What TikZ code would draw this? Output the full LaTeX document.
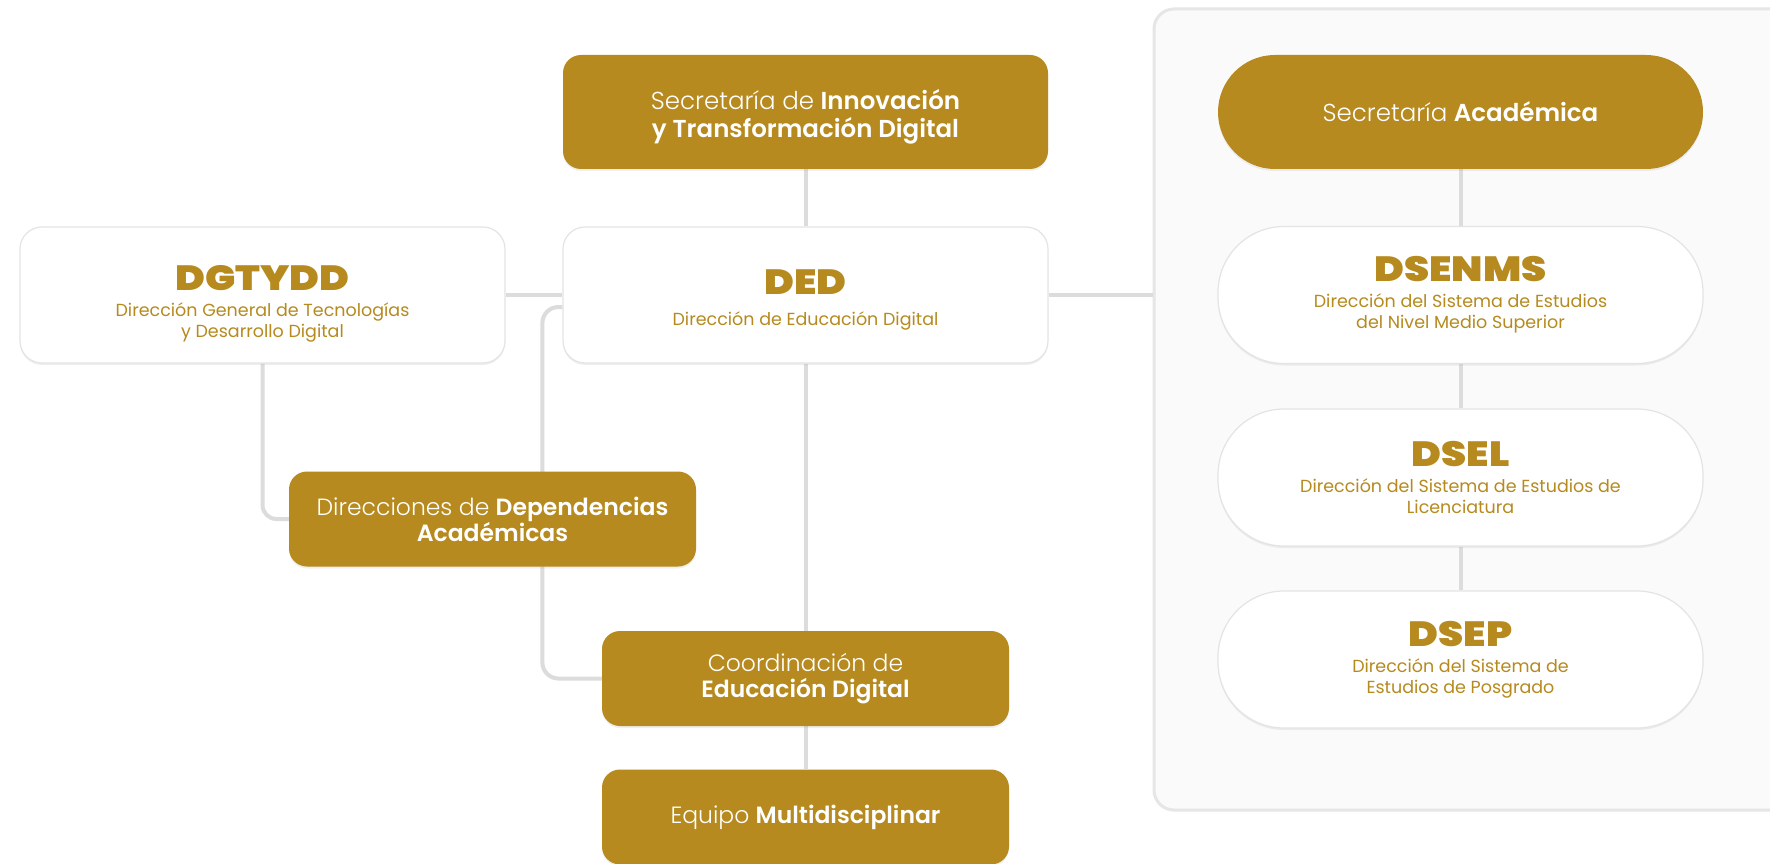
\documentclass[tikz,border=0pt]{standalone}
\usepackage{fontspec}
\setmainfont{Poppins}[BoldFont={Poppins SemiBold}]
\newfontfamily\lightf{Poppins Light}
\newfontfamily\blackf{Poppins Black}[FakeStretch=1.15]
\usetikzlibrary{backgrounds,shadows}
\definecolor{gold}{HTML}{B68A1E}
\definecolor{linegray}{HTML}{DCDCDC}
\definecolor{panelfill}{HTML}{FAFAFA}
\definecolor{panelborder}{HTML}{E6E6E6}
\definecolor{boxborder}{HTML}{E4E4E4}
\newcommand{\titlef}{\fontsize{35}{35}\selectfont\blackf}
\tikzset{
  basebox/.style={rectangle, align=center, inner sep=0pt,
    drop shadow={opacity=0.12, shadow xshift=0pt, shadow yshift=-2pt}},
  goldbox/.style={basebox, fill=gold, text=white, rounded corners=18pt,
    minimum width=407pt, minimum height=95pt,
    font=\fontsize{23.5}{26}\selectfont},
  widegold/.style={goldbox, minimum width=485pt, minimum height=114pt,
    font=\fontsize{24.5}{28.5}\selectfont},
  whitebox/.style={basebox, fill=white, draw=boxborder, line width=1.2pt,
    text=gold, rounded corners=22pt, minimum width=485pt, minimum height=136pt,
    font=\fontsize{17.5}{21}\selectfont},
  pillbox/.style={whitebox, rounded corners=66pt, minimum height=137pt},
  panel/.style={rectangle, fill=panelfill, draw=panelborder, line width=3pt,
    rounded corners=20pt, minimum width=650pt, minimum height=801pt},
  conn/.style={draw=linegray, line width=4pt},
}
\begin{document}
\begin{tikzpicture}[x=1pt,y=-1pt]
\useasboundingbox (0,0) rectangle (1770,864);
\begin{pgfonlayer}{background}
\fill[white] (0,0) rectangle (1770,864);
\node[panel] (panel) at (1479,409.5) {};
\end{pgfonlayer}

% left / centre column
\node[widegold] (sitd) at (805.5,112)
  {\rule{0pt}{30pt}{\lightf Secretaría de} \textbf{Innovación}\\\textbf{y Transformación Digital}};
\node[whitebox] (ded) at (805.5,295)
  {\rule{0pt}{34pt}{\titlef DED}\\[10pt]Dirección de Educación Digital};
\node[whitebox] (dgtydd) at (262.5,295)
  {\rule{0pt}{42pt}{\titlef DGTYDD}\\[5pt]Dirección General de Tecnologías\\y Desarrollo Digital};
\node[goldbox] (dda) at (492.5,519)
  {{\lightf Direcciones de} \textbf{Dependencias}\\\textbf{Académicas}};
\node[goldbox] (ced) at (805.5,678.5)
  {{\lightf Coordinación de}\\\textbf{Educación Digital}};
\node[goldbox] (em) at (805.5,817)
  {{\lightf Equipo} \textbf{Multidisciplinar}};

% right panel
\node[widegold, rounded corners=57pt] (sa) at (1460.5,112)
  {{\lightf Secretaría} \textbf{Académica}};
\node[pillbox] (dsenms) at (1460.5,295)
  {{\titlef DSENMS}\\[5pt]Dirección del Sistema de Estudios\\del Nivel Medio Superior};
\node[pillbox] (dsel) at (1460.5,477.5)
  {{\titlef DSEL}\\[5pt]Dirección del Sistema de Estudios de\\Licenciatura};
\node[pillbox] (dsep) at (1460.5,659.5)
  {{\titlef DSEP}\\[5pt]Dirección del Sistema de\\Estudios de Posgrado};

\begin{pgfonlayer}{background}
\path[conn] (sitd.south) -- (ded.north);
\path[conn] (dgtydd.east) -- (ded.west);
\path[conn] (ded.east) -- (ded.east -| panel.west);
\path[conn] (ded.south) -- (ced.north);
\path[conn] (ced.south) -- (em.north);
\path[conn, rounded corners=14pt] (dgtydd.south) |- (dda.west);
\path[conn, rounded corners=16pt] ([yshift=-12pt]ded.west) -- ++(-20,0) |- (ced.west);
\path[conn] (sa.south) -- (dsenms.north);
\path[conn] (dsenms.south) -- (dsel.north);
\path[conn] (dsel.south) -- (dsep.north);
\end{pgfonlayer}
\end{tikzpicture}
\end{document}
